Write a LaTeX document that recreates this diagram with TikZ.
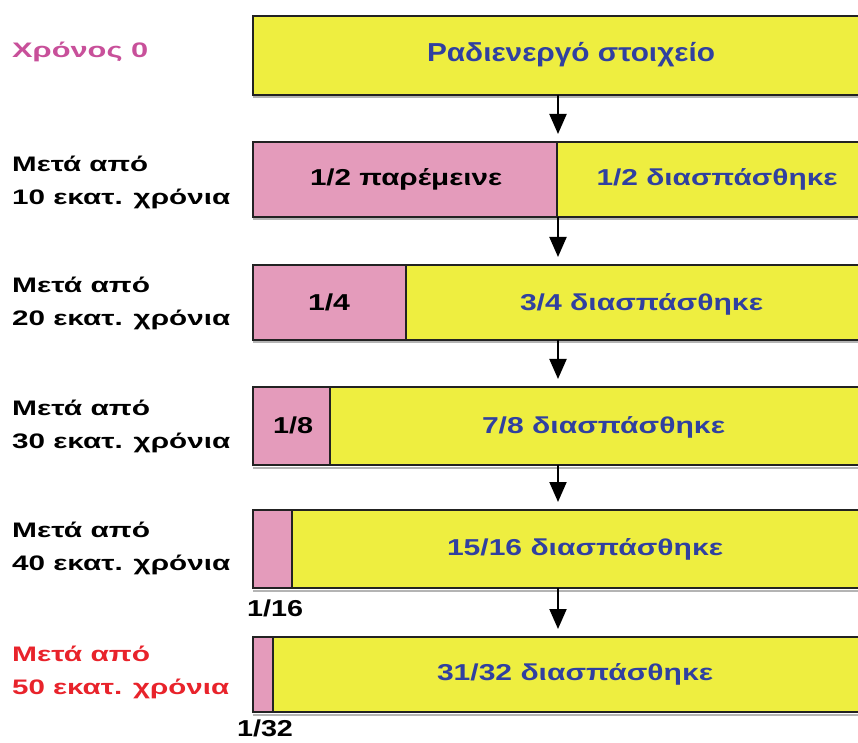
\documentclass[tikz,border=0pt]{standalone}
\usepackage{fontspec}
\usepackage{graphicx}
\setmainfont{Liberation Sans}
\usetikzlibrary{arrows.meta}
\newcommand{\wbox}[2]{\resizebox{#1}{\height}{#2}}
\definecolor{barY}{HTML}{EEEE40}
\definecolor{barP}{HTML}{E49BBB}
\definecolor{barLine}{HTML}{222222}
\definecolor{txtBlue}{HTML}{3040A0}
\definecolor{txtMag}{HTML}{C8509A}
\definecolor{txtRed}{HTML}{E8232B}
\definecolor{shadeGray}{HTML}{B4B4B4}
\begin{document}
\begin{tikzpicture}[x=1pt,y=1pt,
  bar/.style={draw=barLine, line width=2pt, inner sep=0pt, outer sep=0pt, anchor=south west},
  ybar/.style={bar, fill=barY},
  pbar/.style={bar, fill=barP},
  bartxt/.style={inner sep=0pt, font=\bfseries\fontsize{23}{26}\selectfont, text height=16.5pt, text depth=0pt},
  toptxt/.style={inner sep=0pt, font=\bfseries\fontsize{26}{30}\selectfont, text height=18.6pt, text depth=0pt, text=txtBlue},
  lab/.style={inner sep=0pt, anchor=west, align=left, font=\bfseries\fontsize{21}{33}\selectfont},
  arr/.style={draw=black, line width=2pt, -{Triangle[width=17pt,length=20pt]}, shorten >=8pt},
  shd/.style={draw=shadeGray, line width=2pt}
]
\useasboundingbox (0,0) rectangle (858,742);
\coordinate (ax) at (558,0);

% bars
\node[ybar, minimum width=609pt, minimum height=79pt] (b0) at (253,647) {};
\node[pbar, minimum width=304pt, minimum height=75pt] (p1) at (253,525) {};
\node[ybar, minimum width=305pt, minimum height=75pt] (y1) at (557,525) {};
\node[pbar, minimum width=153pt, minimum height=75pt] (p2) at (253,402) {};
\node[ybar, minimum width=456pt, minimum height=75pt] (y2) at (406,402) {};
\node[pbar, minimum width=77pt, minimum height=78pt] (p3) at (253,277) {};
\node[ybar, minimum width=532pt, minimum height=78pt] (y3) at (330,277) {};
\node[pbar, minimum width=39pt, minimum height=78pt] (p4) at (253,154) {};
\node[ybar, minimum width=570pt, minimum height=78pt] (y4) at (292,154) {};
\node[pbar, minimum width=20pt, minimum height=75pt] (p5) at (253,30) {};
\node[ybar, minimum width=589pt, minimum height=75pt] (y5) at (273,30) {};

% light shadow under bars
\draw[shd] ([yshift=-2.5pt]b0.south west) -- ([yshift=-2.5pt]b0.south east);
\draw[shd] ([yshift=-2.5pt]p1.south west) -- ([yshift=-2.5pt]y1.south east);
\draw[shd] ([yshift=-2.5pt]p2.south west) -- ([yshift=-2.5pt]y2.south east);
\draw[shd] ([yshift=-2.5pt]p3.south west) -- ([yshift=-2.5pt]y3.south east);
\draw[shd] ([yshift=-2.5pt]p4.south west) -- ([yshift=-2.5pt]y4.south east);
\draw[shd] ([yshift=-2.5pt]p5.south west) -- ([yshift=-2.5pt]y5.south east);

% arrows
\draw[arr] (b0.south -| ax) -- (y1.north -| ax);
\draw[arr] (y1.south -| ax) -- (y2.north -| ax);
\draw[arr] (y2.south -| ax) -- (y3.north -| ax);
\draw[arr] (y3.south -| ax) -- (y4.north -| ax);
\draw[arr] (y4.south -| ax) -- (y5.north -| ax);

% texts in bars
\node[toptxt] (t0) at (571,690) {\wbox{288pt}{Ραδιενεργό στοιχείο}};
\node[bartxt] (tp1) at (406,565) {\wbox{192pt}{1/2 παρέμεινε}};
\node[bartxt, text=txtBlue] (ty1) at (717,565) {\wbox{241pt}{1/2 διασπάσθηκε}};
\node[bartxt] (tp2) at (329,440) {\wbox{42pt}{1/4}};
\node[bartxt, text=txtBlue] (ty2) at (641.5,440) {\wbox{243pt}{3/4 διασπάσθηκε}};
\node[bartxt] (tp3) at (293,317) {\wbox{40pt}{1/8}};
\node[bartxt, text=txtBlue] (ty3) at (603.5,317) {\wbox{243pt}{7/8 διασπάσθηκε}};
\node[bartxt, text=txtBlue] (ty4) at (585,195) {\wbox{276pt}{15/16 διασπάσθηκε}};
\node[bartxt, text=txtBlue] (ty5) at (575,70) {\wbox{276pt}{31/32 διασπάσθηκε}};
\node[bartxt] (f16) at (275,134) {\wbox{56pt}{1/16}};
\node[bartxt] (f32) at (265,14) {\wbox{56pt}{1/32}};

% left labels
\node[lab, text=txtMag] (l0) at (12,690) {\wbox{136pt}{Χρόνος 0}};
\node[lab] (l1) at (12,559.5) {\wbox{136pt}{Μετά από}\\\wbox{218pt}{10 εκατ. χρόνια}};
\node[lab] (l2) at (12,438.5) {\wbox{138pt}{Μετά από}\\\wbox{218pt}{20 εκατ. χρόνια}};
\node[lab] (l3) at (12,316) {\wbox{138pt}{Μετά από}\\\wbox{218pt}{30 εκατ. χρόνια}};
\node[lab] (l4) at (12,193.5) {\wbox{138pt}{Μετά από}\\\wbox{218pt}{40 εκατ. χρόνια}};
\node[lab, text=txtRed] (l5) at (12,69.5) {\wbox{138pt}{Μετά από}\\\wbox{217pt}{50 εκατ. χρόνια}};
\end{tikzpicture}
\end{document}
